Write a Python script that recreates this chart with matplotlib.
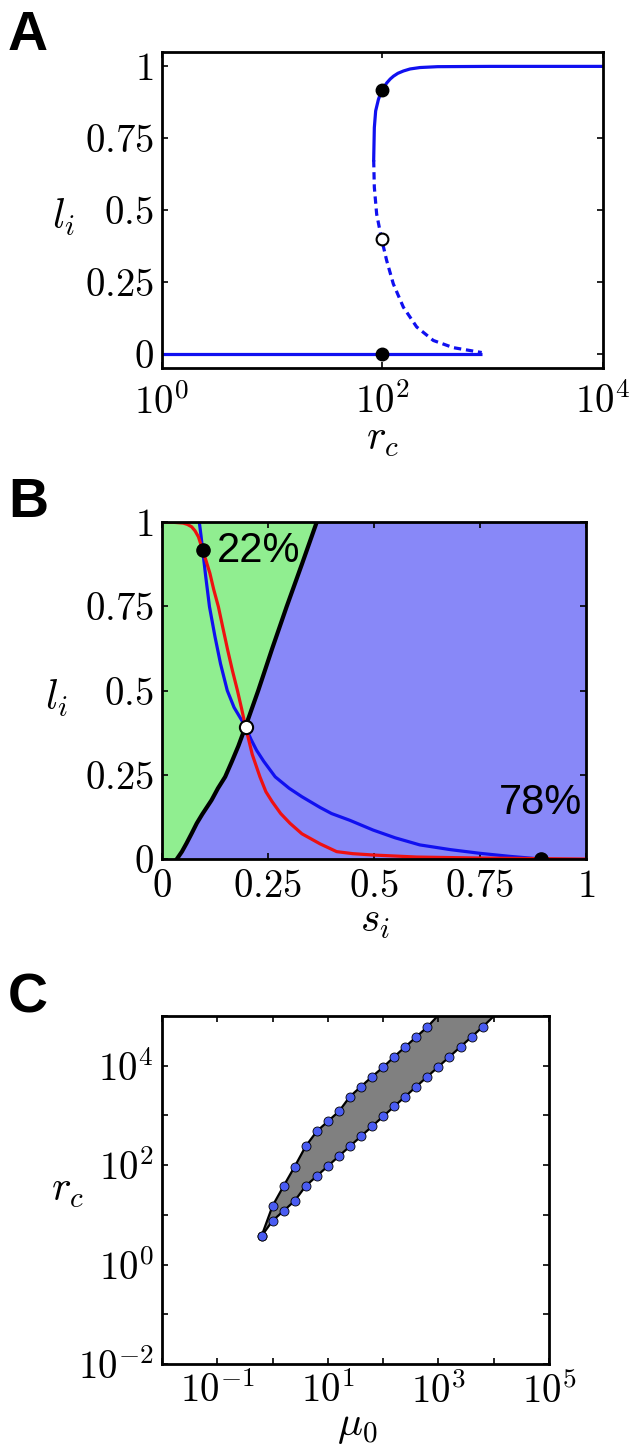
import matplotlib
matplotlib.use('Agg')
import matplotlib.pyplot as plt
from matplotlib.ticker import FixedLocator, FuncFormatter, NullLocator
import numpy as np

plt.rcParams['mathtext.fontset'] = 'cm'
plt.rcParams['font.family'] = ['Liberation Sans', 'DejaVu Sans']

# --- Panel A: l_i vs r_c (log10 r_c) ---
a_upper_logrc = [1.92, 1.926, 1.938, 1.963, 1.98, 2.0, 2.02, 2.04, 2.07, 2.10, 2.14, 2.19, 2.25,
                 2.34, 2.5, 2.975, 4.0]
a_upper_l = [0.674, 0.787, 0.845, 0.885, 0.903, 0.918, 0.932, 0.943, 0.956, 0.966, 0.976, 0.984,
             0.991, 0.996, 0.999, 1.0, 1.0]
a_mid_logrc = [1.92, 1.926, 1.947, 1.992, 2.038, 2.098, 2.189, 2.31, 2.461, 2.642, 2.9]
a_mid_l = [0.674, 0.579, 0.486, 0.399, 0.324, 0.243, 0.162, 0.093, 0.046, 0.021, 0.004]
a_lower_logrc = [0.0, 2.9]
a_lower_l = [0.0, 0.0]
a_stable_rc = [100, 100]
a_stable_l = [0.918, 0.0]
a_unstable_rc = [100]
a_unstable_l = [0.399]

# --- Panel B: l_i vs s_i ---
b_border_s = [0.035, 0.047, 0.058, 0.07, 0.082, 0.095, 0.117, 0.132, 0.149, 0.165, 0.18, 0.197,
              0.227, 0.26, 0.294, 0.33, 0.365]
b_border_l = [0.0, 0.022, 0.047, 0.076, 0.106, 0.133, 0.175, 0.21, 0.244, 0.29, 0.335, 0.393,
              0.5, 0.625, 0.749, 0.875, 1.0]
b_blue_s = [0.088, 0.092, 0.096, 0.103, 0.112, 0.125, 0.138, 0.154, 0.17, 0.197, 0.21, 0.223,
            0.24, 0.267, 0.3, 0.33, 0.373, 0.4, 0.443, 0.498, 0.55, 0.608, 0.68, 0.75, 0.82,
            0.876, 0.895]
b_blue_l = [1.0, 0.96, 0.917, 0.84, 0.749, 0.66, 0.58, 0.5, 0.45, 0.393, 0.355, 0.323,
            0.29, 0.244, 0.21, 0.185, 0.153, 0.135, 0.115, 0.086, 0.063, 0.042, 0.028, 0.017, 0.008,
            0.002, 0.0]
b_red_s = [0.0, 0.03, 0.05, 0.06, 0.07, 0.078, 0.086, 0.096, 0.104, 0.113, 0.122, 0.133, 0.143,
           0.155, 0.166, 0.178, 0.188, 0.197, 0.213, 0.231, 0.245, 0.26, 0.28, 0.302, 0.33,
           0.373, 0.412, 0.45, 0.498, 0.6, 0.75, 1.0]
b_red_l = [1.0, 0.999, 0.997, 0.993, 0.986, 0.974, 0.956, 0.917, 0.885, 0.848, 0.8, 0.749, 0.69,
           0.62, 0.56, 0.5, 0.445, 0.393, 0.31, 0.244, 0.2, 0.17, 0.135, 0.106, 0.075,
           0.045, 0.022, 0.016, 0.012, 0.006, 0.003, 0.0]
b_stable_s = [0.096, 0.895]
b_stable_l = [0.917, 0.0]
b_unstable_s = [0.197]
b_unstable_l = [0.393]
b_labels = ['22%', '78%']

# --- Panel C: bistable region in (mu_0, r_c), log10 values ---
c_upper_logmu = [-0.2, 0.0, 0.2, 0.4, 0.6, 0.8, 1.0, 1.2, 1.4, 1.6, 1.8, 2.0, 2.2, 2.4, 2.6, 2.8, 3.07]
c_upper_logrc = [0.57, 1.18, 1.58, 1.97, 2.38, 2.68, 2.88, 3.08, 3.38, 3.58, 3.78, 3.97, 4.18, 4.38,
                 4.58, 4.78, 5.1]
c_lower_logmu = [-0.2, 0.0, 0.2, 0.4, 0.6, 0.8, 1.0, 1.2, 1.4, 1.6, 1.8, 2.0, 2.2, 2.4, 2.6, 2.8,
                 3.0, 3.2, 3.4, 3.6, 3.8, 4.1]
c_lower_logrc = [0.57, 0.88, 1.08, 1.28, 1.58, 1.78, 1.98, 2.18, 2.38, 2.58, 2.78, 2.98, 3.18, 3.38,
                 3.58, 3.78, 3.98, 4.18, 4.38, 4.58, 4.78, 5.1]

BLUE = '#1010f0'
RED = '#ee1111'
TICK_FS = 28
LABEL_FS = 30


def style_axes(ax, xpad=9):
    for sp in ax.spines.values():
        sp.set_linewidth(2)
    ax.tick_params(which='both', direction='in', top=True, right=True,
                   length=4, width=1.2, labelsize=TICK_FS, pad=6)
    ax.tick_params(axis='x', pad=xpad)


def frac_fmt(v, pos):
    return '$' + ('%g' % v) + '$'


def set_labels(ax, xl, yl, xpos, ypos):
    ax.set_xlabel(xl, fontsize=LABEL_FS, va='center')
    ax.set_ylabel(yl, fontsize=LABEL_FS, rotation=0, ha='center', va='center')
    ax.xaxis.set_label_coords(*xpos)
    ax.yaxis.set_label_coords(*ypos)


fig = plt.figure(figsize=(6.4, 14.45), dpi=100)

# --- A ---
axA = fig.add_axes([0.2531, 0.7453, 0.6891, 0.2187])
axA.plot(10 ** np.array(a_lower_logrc), a_lower_l, color=BLUE, lw=2.3, solid_capstyle='butt')
axA.plot(10 ** np.array(a_upper_logrc), a_upper_l, color=BLUE, lw=2.3)
axA.plot(10 ** np.array(a_mid_logrc), a_mid_l, color=BLUE, lw=2.3, linestyle=(0, (2.3, 1.5)))
axA.plot(a_stable_rc, a_stable_l, 'o', color='black', ms=9, zorder=5, clip_on=False)
axA.plot(a_unstable_rc, a_unstable_l, 'o', mfc='white', mec='black', mew=1.5, ms=8.5, zorder=5)
axA.set_xscale('log')
axA.set_xlim(1, 1e4)
axA.set_ylim(-0.05, 1.05)
axA.xaxis.set_major_locator(FixedLocator([1, 1e2, 1e4]))
axA.xaxis.set_minor_locator(NullLocator())
axA.xaxis.set_major_formatter(FuncFormatter(lambda v, p: '$10^{%d}$' % round(np.log10(v))))
axA.yaxis.set_major_locator(FixedLocator([0, 0.25, 0.5, 0.75, 1]))
axA.yaxis.set_major_formatter(FuncFormatter(frac_fmt))
style_axes(axA, xpad=11)
set_labels(axA, '$r_c$', '$l_i$', (0.5, -0.225), (-0.224, 0.478))

# --- B ---
axB = fig.add_axes([0.2531, 0.4055, 0.6625, 0.2332])
axB.fill_betweenx(b_border_l, 0, b_border_s, color='#90ee90', lw=0)
axB.fill_betweenx(b_border_l, b_border_s, 1, color='#8888f8', lw=0)
axB.plot(b_border_s, b_border_l, color='black', lw=3)
axB.plot(b_blue_s, b_blue_l, color=BLUE, lw=2.3)
axB.plot(b_red_s, b_red_l, color=RED, lw=2.3)
axB.plot(b_stable_s, b_stable_l, 'o', color='black', ms=9.5, zorder=5)
axB.plot(b_unstable_s, b_unstable_l, 'o', mfc='white', mec='black', mew=1.5, ms=9.5, zorder=5)
axB.text(0.129, 0.914, b_labels[0], fontsize=30, ha='left', va='center')
axB.text(0.99, 0.165, b_labels[1], fontsize=30, ha='right', va='center')
axB.set_xlim(0, 1)
axB.set_ylim(0, 1)
ticks = [0, 0.25, 0.5, 0.75, 1]
axB.xaxis.set_major_locator(FixedLocator(ticks))
axB.yaxis.set_major_locator(FixedLocator(ticks))
axB.xaxis.set_major_formatter(FuncFormatter(frac_fmt))
axB.yaxis.set_major_formatter(FuncFormatter(frac_fmt))
style_axes(axB, xpad=7)
set_labels(axB, '$s_i$', '$l_i$', (0.502, -0.185), (-0.248, 0.478))

# --- C ---
axC = fig.add_axes([0.2531, 0.0561, 0.6047, 0.2408])
up_mu = 10 ** np.array(c_upper_logmu)
up_rc = 10 ** np.array(c_upper_logrc)
lo_mu = 10 ** np.array(c_lower_logmu)
lo_rc = 10 ** np.array(c_lower_logrc)
axC.fill(np.concatenate([up_mu, lo_mu[::-1]]), np.concatenate([up_rc, lo_rc[::-1]]),
         color='#808080', lw=0)
axC.plot(up_mu, up_rc, color='black', lw=1.6)
axC.plot(lo_mu, lo_rc, color='black', lw=1.6)
axC.plot(up_mu[:-1], up_rc[:-1], 'o', mfc='#4a5cf2', mec='black', mew=0.6, ms=6.5, zorder=5)
axC.plot(lo_mu[:-1], lo_rc[:-1], 'o', mfc='#4a5cf2', mec='black', mew=0.6, ms=6.5, zorder=5)
axC.set_xscale('log')
axC.set_yscale('log')
axC.set_xlim(1e-2, 1e5)
axC.set_ylim(1e-2, 1e5)
decades = [10.0 ** k for k in range(-2, 6)]
axC.xaxis.set_major_locator(FixedLocator(decades))
axC.yaxis.set_major_locator(FixedLocator(decades))
axC.xaxis.set_minor_locator(NullLocator())
axC.yaxis.set_minor_locator(NullLocator())
axC.xaxis.set_major_formatter(FuncFormatter(
    lambda v, p: '$10^{%d}$' % round(np.log10(v)) if round(np.log10(v)) % 2 else ''))
axC.yaxis.set_major_formatter(FuncFormatter(
    lambda v, p: '' if round(np.log10(v)) % 2 or round(np.log10(v)) > 4 else '$10^{%d}$' % round(np.log10(v))))
style_axes(axC, xpad=6)
set_labels(axC, r'$\mu_0$', '$r_c$', (0.504, -0.178), (-0.245, 0.5))

# --- panel letters ---
for letter, ybase in [('A', 0.9654), ('B', 0.6422), ('C', 0.2996)]:
    fig.text(0.0125, ybase, letter, fontsize=40, fontweight='bold', va='baseline', ha='left')

fig.savefig('out.png', dpi=100)
